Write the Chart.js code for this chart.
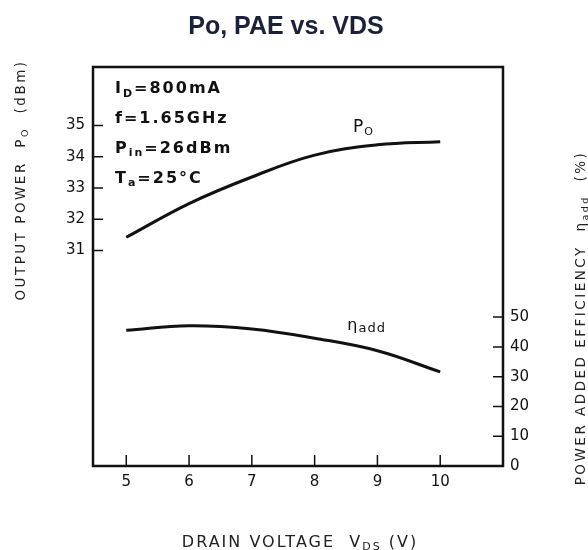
<!DOCTYPE html>
<html>
<head>
<meta charset="utf-8">
<script src="https://cdn.jsdelivr.net/npm/chart.js@4.4.1/dist/chart.umd.min.js"></script>
<style>
  html, body { margin: 0; padding: 0; background: #fff; }
  #wrap { width: 588px; height: 550px; }
</style>
</head>
<body>
<div id="wrap"><canvas id="chart" width="588" height="550"></canvas></div>
<script>
// drain voltage (V) and the two curves
const vds = [5, 6, 7, 8, 9, 10];
const poDbm = [31.42, 32.5, 33.35, 34.05, 34.38, 34.48];
const paePct = [45.6, 47.1, 46.0, 42.9, 38.7, 31.6];

const xTicks = [5, 6, 7, 8, 9, 10];
const poTicks = [31, 32, 33, 34, 35];
const paeTicks = [0, 10, 20, 30, 40, 50];

const conditions = [
  [['I', 16], ['D', 11, 4], ['=800mA', 16]],
  [['f=1.65GHz', 16]],
  [['P', 16], ['in', 11, 3], ['=26dBm', 16]],
  [['T', 16], ['a', 11, 3], ['=25°C', 16]]
];

const INK = '#111';
const FONT = '"DejaVu Sans", sans-serif';

// draws a run of text pieces: [text, size, dy]
function richText(ctx, parts, x, y, align, weight) {
  let w = 0;
  parts.forEach(p => {
    ctx.font = `${weight || 'normal'} ${p[1]}px ${FONT}`;
    w += ctx.measureText(p[0]).width;
  });
  let cx = align === 'center' ? x - w / 2 : x;
  parts.forEach(p => {
    ctx.font = `${weight || 'normal'} ${p[1]}px ${FONT}`;
    ctx.fillText(p[0], cx, y + (p[2] || 0));
    cx += ctx.measureText(p[0]).width;
  });
}

const decor = {
  id: 'decor',
  afterDraw(chart) {
    const { ctx, chartArea: a, scales } = chart;
    ctx.save();

    // frame
    ctx.strokeStyle = INK;
    ctx.lineWidth = 2.5;
    ctx.strokeRect(a.left, a.top, a.right - a.left, a.bottom - a.top);

    // inward tick marks
    ctx.lineWidth = 1.5;
    ctx.beginPath();
    poTicks.forEach(v => {
      const y = scales.y.getPixelForValue(v);
      ctx.moveTo(a.left, y); ctx.lineTo(a.left + 10, y);
    });
    paeTicks.forEach(v => {
      const y = scales.y1.getPixelForValue(v);
      ctx.moveTo(a.right - 10, y); ctx.lineTo(a.right, y);
    });
    xTicks.forEach(v => {
      const x = scales.x.getPixelForValue(v);
      ctx.moveTo(x, a.bottom - 11); ctx.lineTo(x, a.bottom);
    });
    ctx.stroke();

    // title
    ctx.fillStyle = '#1b2138';
    ctx.textAlign = 'center';
    ctx.textBaseline = 'alphabetic';
    ctx.font = 'bold 25px "Liberation Sans", Arial, sans-serif';
    ctx.fillText('Po, PAE vs. VDS', 286, 34);

    ctx.textAlign = 'left';
    ctx.fillStyle = '#222';

    // x axis title
    ctx.letterSpacing = '2px';
    richText(ctx, [['DRAIN VOLTAGE  V', 16], ['DS', 11, 3], [' (V)', 16]], 300, 547, 'center');

    // left axis title
    ctx.save();
    ctx.translate(25, 180);
    ctx.rotate(-Math.PI / 2);
    ctx.letterSpacing = '2.5px';
    richText(ctx, [['OUTPUT POWER  P', 13.5], ['O', 9.5, 3], ['  (dBm)', 13.5]], 0, 0, 'center');
    ctx.restore();

    // right axis title
    ctx.save();
    ctx.translate(585, 318);
    ctx.rotate(-Math.PI / 2);
    ctx.letterSpacing = '2.5px';
    richText(ctx, [['POWER ADDED EFFICIENCY  η', 13.5], ['add', 9.5, 3], ['  (%)', 13.5]], 0, 0, 'center');
    ctx.restore();

    // test conditions
    ctx.fillStyle = INK;
    ctx.letterSpacing = '2px';
    conditions.forEach((line, i) => {
      richText(ctx, line, a.left + 22, a.top + 26 + i * 30, 'left', '600');
    });

    // curve labels
    ctx.letterSpacing = '1px';
    richText(ctx, [['P', 17], ['O', 11, 3]],
      scales.x.getPixelForValue(8.61), scales.y.getPixelForValue(34.8), 'left');
    richText(ctx, [['η', 16], ['add', 13, 2]],
      scales.x.getPixelForValue(8.52), scales.y1.getPixelForValue(45.6), 'left');

    ctx.restore();
  }
};

const tickFont = { family: FONT, size: 15 };

new Chart(document.getElementById('chart'), {
  type: 'line',
  data: {
    datasets: [
      {
        label: 'Po',
        data: vds.map((v, i) => ({ x: v, y: poDbm[i] })),
        yAxisID: 'y',
        borderColor: INK,
        borderWidth: 3,
        pointRadius: 0,
        tension: 0.4
      },
      {
        label: 'PAE',
        data: vds.map((v, i) => ({ x: v, y: paePct[i] })),
        yAxisID: 'y1',
        borderColor: INK,
        borderWidth: 3,
        pointRadius: 0,
        tension: 0.4
      }
    ]
  },
  options: {
    responsive: false,
    animation: false,
    devicePixelRatio: 1,
    layout: { padding: { top: 67, left: 0, right: 0, bottom: 0 } },
    plugins: { legend: { display: false }, tooltip: { enabled: false }, title: { display: false } },
    scales: {
      x: {
        type: 'linear',
        min: 4.47,
        max: 11,
        afterBuildTicks: s => { s.ticks = xTicks.map(v => ({ value: v })); },
        afterFit: s => { s.height = 84; },
        grid: { display: false, drawTicks: false },
        border: { display: false },
        ticks: { color: INK, font: tickFont, padding: 7 }
      },
      y: {
        position: 'left',
        min: 24.1,
        max: 36.87,
        afterBuildTicks: s => { s.ticks = poTicks.map(v => ({ value: v })); },
        afterFit: s => { s.width = 93; },
        grid: { display: false, drawTicks: false },
        border: { display: false },
        ticks: { color: INK, font: tickFont, padding: 8 }
      },
      y1: {
        position: 'right',
        min: 0,
        max: 134,
        afterBuildTicks: s => { s.ticks = paeTicks.map(v => ({ value: v })); },
        afterFit: s => { s.width = 85; },
        grid: { display: false, drawTicks: false },
        border: { display: false },
        ticks: { color: INK, font: tickFont, padding: 7 }
      }
    }
  },
  plugins: [decor]
});
</script>
</body>
</html>
